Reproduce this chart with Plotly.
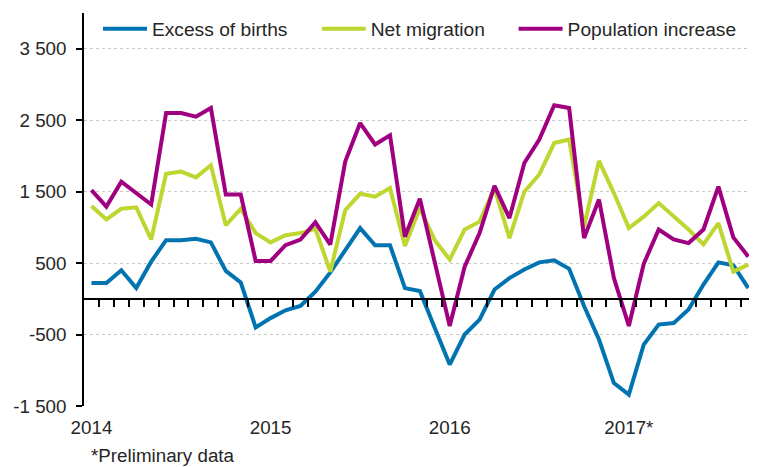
import plotly.graph_objects as go

months = list(range(45))  # Jan 2014 .. Sep 2017
year_tick_pos = [0, 12, 24, 36]
year_labels = ["2014", "2015", "2016", "2017*"]

excess_of_births = [220, 220, 400, 150, 520, 820, 820, 840, 790, 390, 230,
                    -400, -270, -160, -100, 100, 370, 690, 990, 750, 750, 150,
                    110, -410, -920, -500, -290, 130, 290, 410, 510, 540, 420,
                    -100, -570, -1180, -1340, -640, -360, -340, -150, 200, 510, 470, 150]
net_migration = [1300, 1110, 1260, 1280, 830, 1750, 1780, 1700, 1870, 1030, 1260,
                 920, 790, 890, 920, 980, 380, 1240, 1470, 1430, 1550, 740,
                 1270, 820, 550, 970, 1080, 1550, 850, 1500, 1740, 2180, 2230,
                 1010, 1930, 1480, 990, 1150, 1340, 1150, 970, 760, 1060, 380, 480]
population_increase = [1520, 1290, 1640, 1480, 1320, 2600, 2600, 2550, 2670, 1460, 1460,
                       530, 530, 750, 830, 1070, 760, 1920, 2460, 2160, 2290, 870,
                       1400, 510, -380, 450, 920, 1580, 1130, 1900, 2230, 2710, 2670,
                       850, 1390, 290, -380, 490, 970, 830, 780, 970, 1570, 860, 590]

y_tick_vals = [-1500, -500, 500, 1500, 2500, 3500]
y_tick_text = ["-1 500", "-500", "500", "1 500", "2 500", "3 500"]
month_boundaries = [m + 0.5 for m in months[:-1]]

FONT = "Liberation Sans, Arial, sans-serif"
FS = 18.8
FS_LEG = 19.2
TXT = "#262626"

series = [
    ("Excess of births", excess_of_births, "#0073B0", "legend"),
    ("Net migration", net_migration, "#BED62F", "legend2"),
    ("Population increase", population_increase, "#A0007F", "legend3"),
]

fig = go.Figure()
for name, vals, color, leg in series:
    fig.add_trace(go.Scatter(x=months, y=vals, mode="lines", name=name, legend=leg,
                             line=dict(color=color, width=4)))

Y_MIN, Y_MAX = -1500, 4000
zero_pos = (0 - Y_MIN) / (Y_MAX - Y_MIN)
x_range = [-0.5, 44.05]


def legend_at(xpos):
    return dict(orientation="h", x=xpos, xanchor="left", y=0.96, yanchor="middle",
                font=dict(family=FONT, size=FS_LEG, color=TXT), bgcolor="rgba(255,255,255,0)",
                itemwidth=44)


fig.update_layout(
    width=741, height=459,
    margin=dict(l=76, r=0, t=5, b=61, autoexpand=False),
    paper_bgcolor="white", plot_bgcolor="white",
    font=dict(family=FONT, size=FS, color=TXT),
    showlegend=True,
    legend=legend_at(0.021),
    legend2=legend_at(0.350),
    legend3=legend_at(0.646),
    xaxis=dict(range=x_range, tickmode="array", tickvals=year_tick_pos, ticktext=year_labels,
               showgrid=False, zeroline=False, showline=False, ticks="", automargin=False,
               ticklabelstandoff=8, tickfont=dict(size=FS, color=TXT)),
    xaxis2=dict(range=x_range, overlaying="x", anchor="free", position=zero_pos, side="bottom",
                tickmode="array", tickvals=month_boundaries, showticklabels=False, automargin=False,
                ticks="outside", ticklen=7, tickwidth=1.5, tickcolor="black",
                showline=True, linecolor="black", linewidth=2, showgrid=False, zeroline=False),
    yaxis=dict(range=[Y_MIN, Y_MAX], tickmode="array", tickvals=y_tick_vals, ticktext=y_tick_text,
               showgrid=True, gridcolor="#c8c8c8", griddash="dot", gridwidth=1, automargin=False,
               zeroline=False, showline=True, linecolor="black", linewidth=1.5,
               ticks="outside", ticklen=6, tickcolor="black", tickwidth=1.5,
               ticklabelstandoff=6, tickfont=dict(size=FS, color=TXT)),
    annotations=[dict(text="*Preliminary data", xref="paper", yref="paper", x=0.007, y=-0.125,
                      xanchor="left", yanchor="middle", showarrow=False,
                      font=dict(family=FONT, size=FS, color=TXT))],
)
# invisible helper so the zero-line axis is rendered
fig.add_trace(go.Scatter(x=[0], y=[0], xaxis="x2", mode="lines", showlegend=False,
                         hoverinfo="skip", line=dict(width=0), opacity=0))

fig.write_html("out.html")
